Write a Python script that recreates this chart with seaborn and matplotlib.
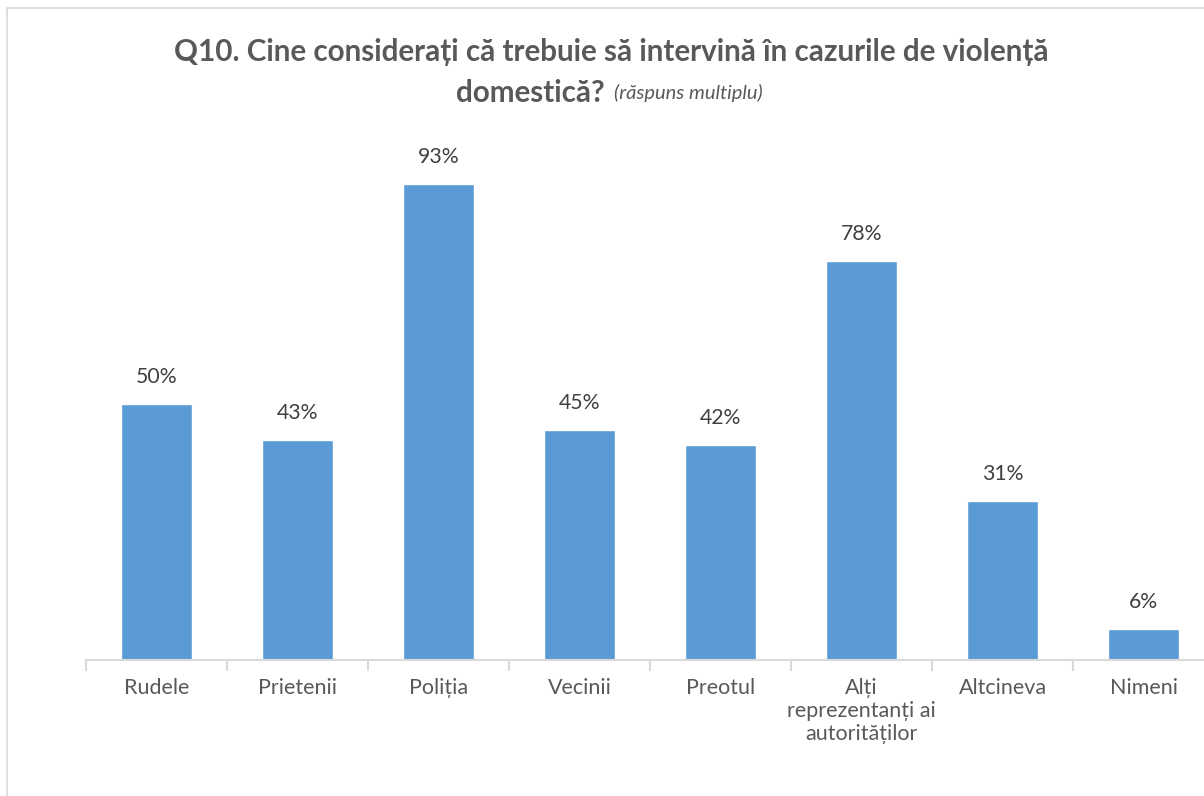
import pandas as pd
import numpy as np
import matplotlib.pyplot as plt
import seaborn as sns
from matplotlib.patches import Rectangle
from matplotlib.ticker import FixedLocator

categories = ["Rudele", "Prietenii", "Poliția", "Vecinii", "Preotul",
              "Alți\nreprezentanți ai\nautorităților", "Altcineva", "Nimeni"]
values = [50, 43, 93, 45, 42, 78, 31, 6]

df = pd.DataFrame({"cat": categories, "val": values})

sns.set_theme(style="white")
plt.rcParams['font.family'] = ['Lato', 'DejaVu Sans']

fig = plt.figure(figsize=(12.04, 7.96), dpi=100)
# chart frame (cropped at right/bottom)
fig.patches.append(Rectangle((7 / 1204, -0.05), 1.2, (796 - 8) / 796 + 0.05,
                             transform=fig.transFigure, fill=False,
                             edgecolor="#D9D9D9", linewidth=1.2))

ax = fig.add_axes([86 / 1204, 1 - 660 / 796, 1128 / 1204, 512 / 796])
sns.barplot(data=df, x="cat", y="val", color="#5B9BD5", saturation=1,
            width=0.5, ax=ax)

ax.set_ylim(0, 100)
ax.set_xlim(-0.5, len(categories) - 0.5)
ax.set_yticks([])
ax.set_xlabel("")
ax.set_ylabel("")
for s in ["top", "right", "left"]:
    ax.spines[s].set_visible(False)
ax.spines["bottom"].set_color("#D9D9D9")
ax.spines["bottom"].set_linewidth(1.5)

ax.tick_params(axis="x", which="major", length=0, pad=13,
               labelsize=15.5, labelcolor="#595959")
ax.xaxis.set_minor_locator(FixedLocator(np.arange(-0.5, len(categories), 1)))
ax.tick_params(axis="x", which="minor", bottom=True, length=8, width=1.5,
               color="#D9D9D9")
for lbl in ax.get_xticklabels():
    lbl.set_linespacing(1.2)
    lbl.set_verticalalignment("top")

for i, v in enumerate(values):
    ax.text(i, v + 3.3, f"{v}%", ha="center", va="bottom",
            fontsize=15.3, color="#404040")

fig.text(611 / 1204, 1 - 52 / 796, "Q10. Cine considerați că trebuie să intervină în cazurile de violență",
         ha="center", va="center", fontsize=21.3, fontweight="bold", color="#595959")
fig.text(605 / 1204, 1 - 93 / 796, "domestică?", ha="right", va="center",
         fontsize=21.3, fontweight="bold", color="#595959")
fig.text(614 / 1204, 1 - 93 / 796, "(răspuns multiplu)", ha="left", va="center",
         fontsize=14.5, style="italic", color="#595959")

fig.savefig("out.png", dpi=100)
